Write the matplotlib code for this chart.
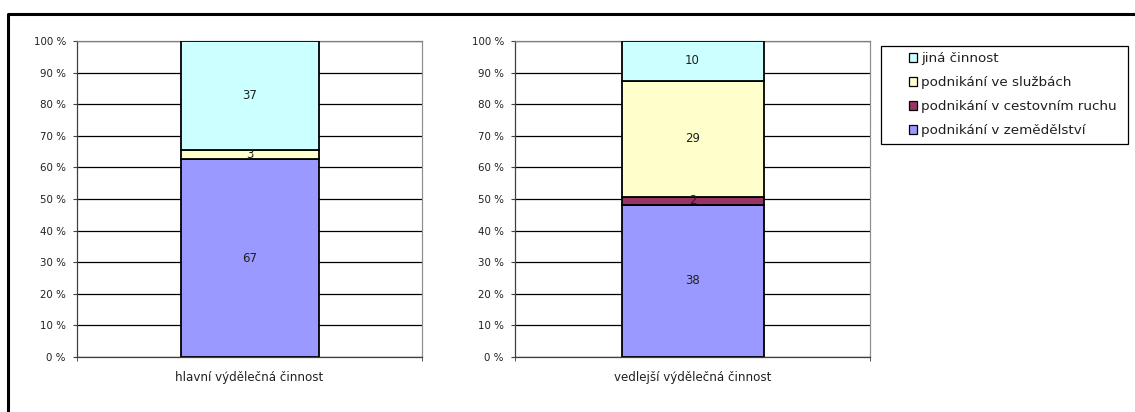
import matplotlib
matplotlib.use("Agg")
import matplotlib.pyplot as plt
from matplotlib.lines import Line2D
from matplotlib.patches import Rectangle, Patch
import numpy as np

plt.rcParams['font.family'] = ['DejaVu Sans']

# ---- data ----
series_names = ["podnikání v zemědělství", "podnikání v cestovním ruchu",
                "podnikání ve službách", "jiná činnost"]
series_colors = ["#9999FF", "#993366", "#FFFFCC", "#CCFFFF"]
hlavni_values = [67, 0, 3, 37]
vedlejsi_values = [38, 2, 29, 10]
hlavni_label = "hlavní výdělečná činnost"
vedlejsi_label = "vedlejší výdělečná činnost"
yticks = [0, 10, 20, 30, 40, 50, 60, 70, 80, 90, 100]
ytick_labels = [f"{v} %" for v in yticks]

W, H = 1135, 412
fig = plt.figure(figsize=(W / 100, H / 100), dpi=100)


def px_axes(x0, x1, ytop, ybot):
    return [x0 / W, 1 - ybot / H, (x1 - x0) / W, (ybot - ytop) / H]


def draw_panel(ax, values, label):
    total = sum(values)
    bottom = 0.0
    for v, c in zip(values, series_colors):
        h = v / total * 100
        ax.bar(0, h, width=0.4, bottom=bottom, color=c, edgecolor="black",
               linewidth=1.3, zorder=3)
        if v > 0:
            ax.text(0, bottom + h / 2, str(v), ha="center", va="center",
                    fontsize=8.5, color="#202020", zorder=4)
        bottom += h
    ax.set_xlim(-0.5, 0.5)
    ax.set_ylim(0, 100)
    ax.set_yticks(yticks)
    ax.set_yticklabels(ytick_labels, fontsize=7.4, color="#202020")
    ax.yaxis.grid(True, color="black", linewidth=0.9, zorder=0)
    ax.set_axisbelow(True)
    ax.set_xticks([0])
    ax.set_xticklabels([label], fontsize=8.6, color="#202020")
    ax.tick_params(axis="x", length=0, pad=10)
    ax.set_xticks([-0.5, 0.5], minor=True)
    ax.tick_params(axis="x", which="minor", length=3, direction="out",
                   color="#404040")
    ax.tick_params(axis="y", length=3, direction="out", color="#404040",
                   pad=5)
    ax.spines["left"].set_color("#404040")
    ax.spines["bottom"].set_color("#404040")
    ax.spines["top"].set_color("#808080")
    ax.spines["right"].set_color("#909090")
    for s in ax.spines.values():
        s.set_linewidth(0.9)


ax1 = fig.add_axes(px_axes(77, 422, 41, 357))
draw_panel(ax1, hlavni_values, hlavni_label)
ax2 = fig.add_axes(px_axes(515, 870, 41, 357))
draw_panel(ax2, vedlejsi_values, vedlejsi_label)

# outer frame (top and left borders)
fig.add_artist(Line2D([8 / W, 8 / W, 1.0], [0.0, 1 - 14 / H, 1 - 14 / H],
                      transform=fig.transFigure, color="black", linewidth=2.2))

# legend box
fig.add_artist(Rectangle((881 / W, 1 - 144 / H), (1128 - 881) / W, (144 - 46) / H,
                         transform=fig.transFigure, fill=False,
                         edgecolor="black", linewidth=0.9))
handles = [Patch(facecolor=c, edgecolor="black", linewidth=0.9)
           for c in series_colors][::-1]
leg = fig.legend(handles, series_names[::-1], loc="upper left",
                 bbox_to_anchor=(905 / W, 1 - 48 / H), frameon=False,
                 fontsize=9.7, handlelength=0.6, handleheight=0.6,
                 handletextpad=0.3, labelspacing=0.82, borderpad=0.3,
                 borderaxespad=0)
for t in leg.get_texts():
    t.set_color("#202020")

fig.savefig("out.png", dpi=100)
